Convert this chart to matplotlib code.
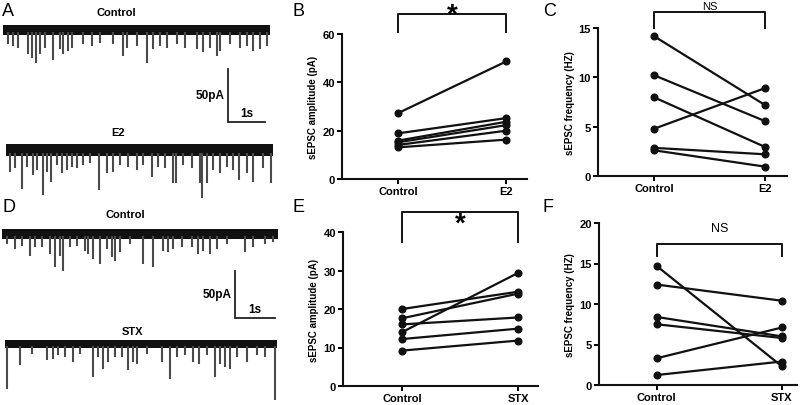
import matplotlib
matplotlib.use("Agg")
import matplotlib.pyplot as plt

plt.rcParams['font.family'] = ['Liberation Sans', 'DejaVu Sans']

W, H = 800, 406

# ---------------- data ----------------
# paired panels
amp_e2_ctrl = [27.3, 18.9, 15.9, 15.2, 14.1, 13.1]
amp_e2_trt = [48.7, 25.2, 23.7, 22.3, 20.0, 16.3]
freq_e2_ctrl = [14.15, 10.2, 7.96, 4.8, 2.85, 2.6]
freq_e2_trt = [7.2, 5.57, 2.95, 8.9, 2.2, 0.95]
amp_stx_ctrl = [20.0, 17.6, 16.0, 14.0, 12.2, 9.2]
amp_stx_trt = [24.5, 24.0, 17.8, 29.4, 14.9, 11.8]
freq_stx_ctrl = [14.7, 12.4, 8.4, 7.5, 3.3, 1.23]
freq_stx_trt = [2.3, 10.4, 6.0, 5.8, 7.1, 2.9]

cond_e2 = ["Control", "E2"]
cond_stx = ["Control", "STX"]

# traces: event times (s) and amplitudes (pA, inward)
a_ctrl_t = [0.14, 0.28, 0.41, 0.68, 0.78, 0.89, 1.0, 1.14, 1.36, 1.54, 1.63, 1.76, 1.86, 2.17,
            2.4, 2.62, 2.98, 3.25, 3.34, 3.61, 3.88, 4.06, 4.24, 4.42, 4.69, 4.92, 5.23, 5.41,
            5.59, 5.78, 5.86, 6.14, 6.41, 6.59, 6.77, 6.95, 7.13]
a_ctrl_a = [13.5, 15, 16.7, 23, 26, 31, 23, 17, 28, 18, 23, 20, 17, 13.5,
            15, 12, 13.5, 24.5, 17, 15, 31, 18, 15, 17, 13.5, 17, 18, 21,
            17, 24.5, 20, 13.5, 17, 15, 20, 18, 15]
a_e2_t = [0.11, 0.24, 0.42, 0.56, 0.74, 0.83, 0.99, 1.1, 1.21, 1.37, 1.5, 1.64, 1.78, 1.91,
          2.09, 2.27, 2.5, 2.72, 2.9, 3.08, 3.31, 3.53, 3.71, 3.94, 4.12, 4.3, 4.5, 4.59,
          4.79, 5.02, 5.23, 5.29, 5.42, 5.6, 5.78, 5.96, 6.14, 6.31, 6.5, 6.68, 6.95, 7.15]
a_e2_a = [20.4, 17.3, 37, 15.7, 23.6, 18.9, 42.4, 20.4, 29.9, 14.1, 22, 18.9, 15.7, 17.3,
          14.1, 12.6, 37.7, 22, 20.4, 14.1, 15.7, 18.9, 14.1, 25.1, 15.7, 17.3, 31.4, 31.4,
          14.1, 17.3, 31.4, 45.6, 31.4, 18.9, 22, 15.7, 18.9, 28.3, 22, 29.9, 17.3, 31.4]
d_ctrl_t = [0.12, 0.33, 0.49, 0.7, 0.83, 0.99, 1.2, 1.33, 1.45, 1.52, 1.7, 1.87, 2.08, 2.16,
            2.28, 2.45, 2.62, 2.74, 2.83, 2.95, 3.2, 3.53, 3.78, 4.03, 4.16, 4.28, 4.49, 4.74,
            4.91, 5.03, 5.2, 5.37, 5.62, 6.08, 6.28, 6.58, 6.78]
d_ctrl_a = [10.6, 16, 12.4, 23, 14.2, 14.2, 21.3, 35.5, 23, 39, 14.2, 12.4, 17.7, 21.3,
            26.6, 32, 16, 24.8, 28.4, 19.5, 10.6, 32, 35.5, 17.7, 19.5, 16, 14.2, 14.2,
            21.3, 17.7, 21.3, 16, 10.6, 19.5, 14.2, 10.6, 8.9]
d_stx_t = [0.06, 0.38, 0.67, 1.04, 1.21, 1.33, 1.5, 1.71, 1.88, 2.19, 2.33, 2.44, 2.58, 2.75,
           2.92, 3.08, 3.21, 3.31, 3.54, 3.92, 4.13, 4.29, 4.5, 4.69, 4.86, 5.04, 5.25, 5.38,
           5.5, 5.63, 5.79, 6.06, 6.29, 6.5, 6.75]
d_stx_a = [47.5, 22.7, 10.3, 17.4, 15.6, 12, 13.8, 19.2, 10.3, 35.1, 13.8, 26.2, 19.2, 13.8,
           13.8, 28, 19.2, 21, 10.3, 19.2, 36.9, 13.8, 12, 19.2, 21, 12, 35.1, 21,
           24.5, 26.2, 13.8, 19.2, 12, 13.8, 59.9]

fig = plt.figure(figsize=(W / 100, H / 100), dpi=100)


def rect(x0, y_top, x1, y_bot):
    return [x0 / W, 1 - y_bot / H, (x1 - x0) / W, (y_bot - y_top) / H]


def px_text(x, y, s, **kw):
    fig.text(x / W, 1 - y / H, s, **kw)


# ---------------- traces ----------------
def trace(x0, base, pps, ppa, T, top, bot, times, amps, hw):
    ax = fig.add_axes(rect(x0, top, x0 + pps * T, bot))
    ax.set_xlim(0, T)
    ax.set_ylim(-(bot - base) / ppa, (base - top) / ppa)
    ax.axis('off')
    ax.vlines(times, -hw * 0.5, [-a for a in amps], color='#4a4a4a', lw=1.5)
    ax.fill_between([0, T], [-hw, -hw], [hw, hw], color='#111111', lw=0)
    return ax


def scalebar(x0, ybot, pps, ppa):
    ax = fig.add_axes(rect(x0, ybot - 50 * ppa, x0 + pps, ybot))
    ax.set_xlim(0, 1)
    ax.set_ylim(0, 50)
    ax.axis('off')
    ax.plot([0, 0, 1], [50, 0, 0], color='#222222', lw=1.3, clip_on=False,
            solid_joinstyle='miter')
    ax.text(-0.08, 25, "50pA", ha='right', va='center', fontsize=8.5, fontweight='bold')
    ax.text(0.5, 3, "1s", ha='center', va='bottom', fontsize=8.5, fontweight='bold')


trace(3, 31, 37, 1.06, 7.22, 18, 70, a_ctrl_t, a_ctrl_a, 4.6)
trace(6, 151, 37, 1.06, 7.22, 138, 200, a_e2_t, a_e2_a, 6.0)
trace(2, 235, 40, 0.94, 6.9, 222, 280, d_ctrl_t, d_ctrl_a, 5.0)
trace(5, 345, 40, 0.94, 6.8, 335, 406, d_stx_t, d_stx_a, 4.5)
scalebar(228, 123, 37, 1.06)
scalebar(235, 319, 40, 0.94)

px_text(116, 13, "Control", ha='center', va='center', fontsize=8, fontweight='bold')
px_text(118, 133, "E2", ha='center', va='center', fontsize=8, fontweight='bold')
px_text(125, 215, "Control", ha='center', va='center', fontsize=8, fontweight='bold')
px_text(132, 332, "STX", ha='center', va='center', fontsize=8, fontweight='bold')

# ---------------- paired panels ----------------
def paired(r, ctrl, trt, conds, ymax, yticks, ylabel, xlim, br_top, br_end, sig, sig_y,
           sig_size, sig_va):
    ax = fig.add_axes(rect(*r))
    for c, t in zip(ctrl, trt):
        ax.plot([0, 1], [c, t], color='#111111', lw=1.6, marker='o', ms=4.8,
                clip_on=False, zorder=3)
    ax.set_xlim(*xlim)
    ax.set_ylim(0, ymax)
    ax.set_xticks([0, 1])
    ax.set_xticklabels(conds, fontweight='bold', fontsize=8)
    ax.set_yticks(yticks)
    ax.set_yticklabels([str(v) for v in yticks], fontweight='bold', fontsize=8)
    ax.tick_params(axis='both', direction='out', length=3.5, width=1.4, pad=1.5)
    for s in ['top', 'right']:
        ax.spines[s].set_visible(False)
    for s in ['left', 'bottom']:
        ax.spines[s].set_linewidth(1.5)
        ax.spines[s].set_color('#111111')
    ax.set_ylabel(ylabel, fontweight='bold', fontsize=7, labelpad=3)
    ax.plot([0, 0, 1, 1], [br_end, br_top, br_top, br_end], color='#111111', lw=1.4,
            clip_on=False)
    ax.text(0.5, sig_y, sig, ha='center', va=sig_va, fontsize=sig_size,
            fontweight='bold' if sig == '*' else 'normal', clip_on=False)
    return ax


paired((342, 35, 527, 180), amp_e2_ctrl, amp_e2_trt, cond_e2, 60, [0, 20, 40, 60],
       "sEPSC amplitude (pA)", (-0.52, 1.19), 68.3, 61, "*", 65.3, 20, 'baseline')
paired((598, 29, 787, 177), freq_e2_ctrl, freq_e2_trt, cond_e2, 15, [0, 5, 10, 15],
       "sEPSC frequency (HZ)", (-0.51, 1.2), 16.6, 15, "NS", 16.7, 8, 'bottom')
paired((343, 233, 538, 387), amp_stx_ctrl, amp_stx_trt, cond_stx, 40, [0, 10, 20, 30, 40],
       "sEPSC amplitude (pA)", (-0.51, 1.17), 45.2, 37.4, "*", 40.3, 20, 'baseline')
paired((599, 224, 797, 386), freq_stx_ctrl, freq_stx_trt, cond_stx, 20, [0, 5, 10, 15, 20],
       "sEPSC frequency (HZ)", (-0.46, 1.12), 17.4, 15.9, "NS", 18.6, 9, 'bottom')

# panel letters
for lx, ly, s in [(2, 12, "A"), (293, 12, "B"), (543, 12, "C"),
                  (2, 208, "D"), (293, 208, "E"), (543, 208, "F")]:
    px_text(lx, ly, s, ha='left', va='center', fontsize=13)

fig.savefig("out.png", dpi=100)
